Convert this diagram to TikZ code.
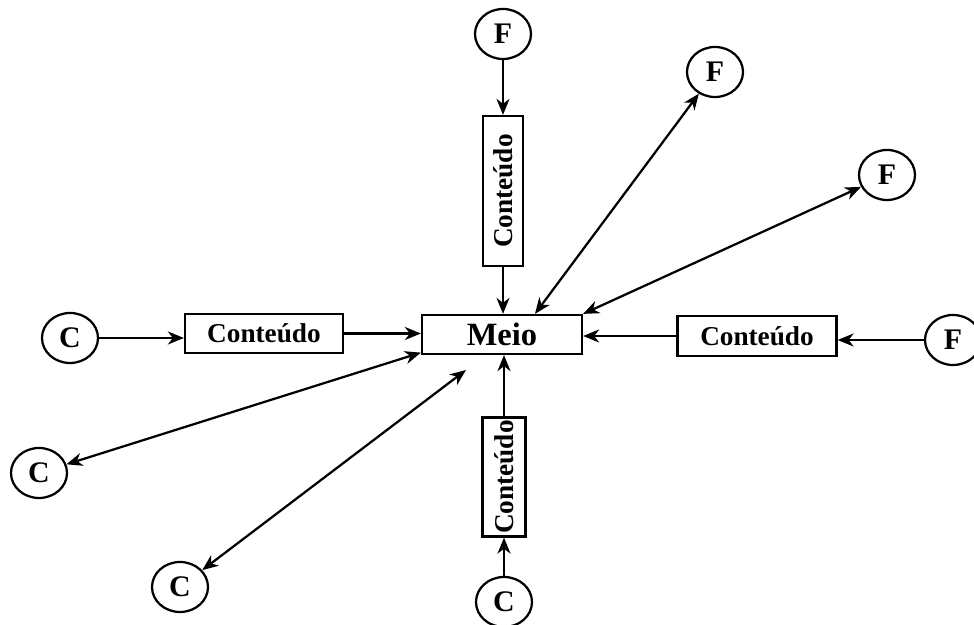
\documentclass[tikz,border=0pt]{standalone}
\usepackage{fontspec}
\setmainfont{Liberation Serif}
\usepackage{tikz}
\usetikzlibrary{arrows.meta,shapes.geometric}

\tikzset{
	caixa/.style={draw, line width=0.45mm, inner sep=0pt, font=\fontsize{15.5}{18}\selectfont\bfseries},
	circulo/.style={draw, ellipse, line width=0.45mm, inner sep=0pt, minimum width=1.12cm, minimum height=1cm, font=\fontsize{17}{19}\selectfont\bfseries},
	seta/.style={-{Stealth[length=3.2mm, width=2.6mm, inset=1mm]}, line width=0.45mm},
	setadupla/.style={{Stealth[length=3.2mm, width=2.6mm, inset=1mm]}-{Stealth[length=3.2mm, width=2.6mm, inset=1mm]}, line width=0.45mm}
}

\begin{document}
\begin{tikzpicture}
		\useasboundingbox (0,0) rectangle (19.48,12.5);

		\node[caixa, minimum width=3.2cm, minimum height=0.78cm, font=\fontsize{18.5}{20}\selectfont\bfseries] (meio) at (10.04,5.81) {Meio};
		\node[caixa, minimum width=3.16cm, minimum height=0.78cm] (cesq) at (5.28,5.83) {Conteúdo};
		\node[caixa, minimum width=3.18cm, minimum height=0.8cm] (cdir) at (15.14,5.78) {Conteúdo};
		\node[caixa, rotate=90, minimum width=3cm, minimum height=0.8cm] (ccima) at (10.06,8.68) {Conteúdo};
		\node[caixa, rotate=90, minimum width=2.38cm, minimum height=0.86cm] (cbaixo) at (10.08,2.96) {Conteúdo};

		\node[circulo] (f1) at (10.06,11.82) {F};
		\node[circulo] (f2) at (14.3,11.06) {F};
		\node[circulo] (f3) at (17.74,9.0) {F};
		\node[circulo] (f4) at (19.06,5.7) {F};
		\node[circulo] (c1) at (1.4,5.74) {C};
		\node[circulo] (c2) at (0.78,3.04) {C};
		\node[circulo] (c3) at (3.6,0.76) {C};
		\node[circulo] (c4) at (10.08,0.46) {C};

		\coordinate (livre) at (9.32,5.1);

		\draw[seta] (f1) -- (f1 |- ccima.east);
		\draw[seta] (ccima.west) -- (ccima.west |- meio.north);
		\draw[setadupla] ([xshift=0.66cm]meio.north) -- (f2);
		\draw[setadupla] (meio.north east) -- (f3);

		\draw[seta] (f4) -- (f4 -| cdir.east);
		\draw[seta] (cdir.west) -- (cdir.west -| meio.east);

		\draw[seta] (c1) -- (c1 -| cesq.west);
		\draw[seta] (cesq.east) -- (cesq.east -| meio.west);
		\draw[setadupla] ([yshift=0.05cm]meio.south west) -- (c2);
		\draw[setadupla] (c3) -- (livre);

		\draw[seta] (c4) -- (c4 |- cbaixo.west);
		\draw[seta] (cbaixo.east) -- (cbaixo.east |- meio.south);

	\end{tikzpicture}
\end{document}
